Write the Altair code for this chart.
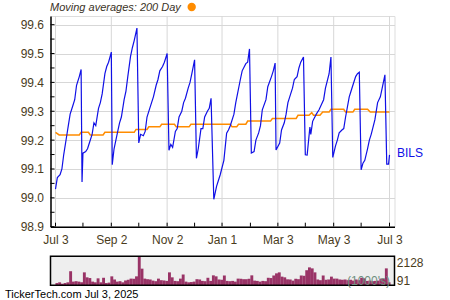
import altair as alt
import pandas as pd

# ---------------- data ----------------
price_dates = [
    "2024-07-03", "2024-07-05", "2024-07-08", "2024-07-10", "2024-07-12", "2024-07-15", "2024-07-17",
    "2024-07-19", "2024-07-22", "2024-07-24", "2024-07-26", "2024-07-29", "2024-07-31",
    "2024-08-01", "2024-08-02", "2024-08-05", "2024-08-07", "2024-08-09", "2024-08-12", "2024-08-14",
    "2024-08-16", "2024-08-19", "2024-08-21", "2024-08-23", "2024-08-26", "2024-08-28", "2024-08-30",
    "2024-09-02",
    "2024-09-03", "2024-09-05", "2024-09-09", "2024-09-11", "2024-09-13", "2024-09-16", "2024-09-18",
    "2024-09-20", "2024-09-23", "2024-09-25", "2024-09-27", "2024-09-30",
    "2024-10-02", "2024-10-04", "2024-10-07", "2024-10-09", "2024-10-11", "2024-10-14", "2024-10-16",
    "2024-10-18", "2024-10-21", "2024-10-23", "2024-10-25", "2024-10-28", "2024-10-30", "2024-11-02",
    "2024-11-04", "2024-11-06", "2024-11-08", "2024-11-11", "2024-11-13", "2024-11-15", "2024-11-18",
    "2024-11-20", "2024-11-22", "2024-11-25", "2024-11-27", "2024-11-29", "2024-12-02",
    "2024-12-04", "2024-12-06", "2024-12-09", "2024-12-11", "2024-12-13", "2024-12-16", "2024-12-18",
    "2024-12-20",
    "2024-12-23", "2024-12-26", "2024-12-30", "2025-01-03", "2025-01-06", "2025-01-08", "2025-01-10",
    "2025-01-14", "2025-01-16", "2025-01-21", "2025-01-23", "2025-01-27", "2025-01-29", "2025-01-31",
    "2025-02-02", "2025-02-05", "2025-02-07", "2025-02-10", "2025-02-12", "2025-02-14", "2025-02-18",
    "2025-02-20", "2025-02-24", "2025-02-26", "2025-02-28",
    "2025-03-01", "2025-03-05", "2025-03-07", "2025-03-10", "2025-03-12", "2025-03-14", "2025-03-17",
    "2025-03-19", "2025-03-21", "2025-03-24", "2025-03-26", "2025-03-28", "2025-03-31",
    "2025-04-02", "2025-04-04", "2025-04-07", "2025-04-08", "2025-04-10", "2025-04-14", "2025-04-17",
    "2025-04-22", "2025-04-24", "2025-04-28", "2025-04-30",
    "2025-05-02", "2025-05-05", "2025-05-07", "2025-05-09", "2025-05-12", "2025-05-14", "2025-05-16",
    "2025-05-20", "2025-05-22", "2025-05-27", "2025-05-29", "2025-05-31",
    "2025-06-02", "2025-06-04", "2025-06-06", "2025-06-09", "2025-06-11", "2025-06-13", "2025-06-17",
    "2025-06-20", "2025-06-23", "2025-06-25", "2025-06-28",
    "2025-06-30", "2025-07-02", "2025-07-03",
]
price_values = [
    99.03, 99.07, 99.08, 99.10, 99.15, 99.21, 99.25,
    99.29, 99.32, 99.34, 99.39, 99.42, 99.445,
    99.055, 99.155, 99.16, 99.17, 99.19, 99.22, 99.26,
    99.25, 99.31, 99.33, 99.36, 99.43, 99.455, 99.47,
    99.505,
    99.115, 99.17, 99.23, 99.26, 99.28, 99.34, 99.37,
    99.42, 99.49, 99.52, 99.545, 99.588,
    99.19, 99.22, 99.215, 99.23, 99.28, 99.31, 99.33,
    99.35, 99.39, 99.41, 99.44, 99.455, 99.47, 99.50,
    99.165, 99.185, 99.175, 99.23, 99.24, 99.28, 99.30,
    99.33, 99.345, 99.38, 99.40, 99.43, 99.478,
    99.137, 99.17, 99.24, 99.24, 99.28, 99.30, 99.31,
    99.345,
    98.995, 99.04, 99.08, 99.13, 99.224, 99.235, 99.25,
    99.29, 99.33, 99.41, 99.44, 99.465, 99.47, 99.516,
    99.155, 99.16, 99.20, 99.225, 99.25, 99.305, 99.34,
    99.385, 99.42, 99.44, 99.467,
    99.166, 99.19, 99.235, 99.26, 99.29, 99.33, 99.36,
    99.38, 99.41, 99.42, 99.45, 99.47, 99.488,
    99.149, 99.148, 99.245, 99.22, 99.265, 99.29, 99.305,
    99.34, 99.38, 99.43, 99.488,
    99.14, 99.18, 99.20, 99.225, 99.235, 99.24, 99.28,
    99.35, 99.37, 99.42, 99.43, 99.435,
    99.097, 99.12, 99.13, 99.17, 99.20, 99.22, 99.27,
    99.33, 99.35, 99.38, 99.426,
    99.117, 99.117, 99.149,
]

ma_dates = [
    "2024-07-03", "2024-07-07", "2024-07-29", "2024-07-31", "2024-08-08", "2024-08-10",
    "2024-08-24", "2024-08-26", "2024-09-27", "2024-09-29", "2024-10-11", "2024-10-13",
    "2024-10-25", "2024-10-27", "2024-11-10", "2024-11-12", "2024-11-26", "2024-11-28",
    "2025-01-10", "2025-01-12", "2025-01-17", "2025-01-19", "2025-01-27", "2025-01-29",
    "2025-02-23", "2025-02-25", "2025-03-23", "2025-03-25", "2025-04-06", "2025-04-09",
    "2025-04-11", "2025-04-18", "2025-04-21", "2025-04-28", "2025-04-30", "2025-05-14",
    "2025-05-16", "2025-05-24", "2025-05-26", "2025-06-09", "2025-06-12", "2025-07-03",
]
ma_values = [
    99.227, 99.218, 99.218, 99.227, 99.227, 99.218,
    99.218, 99.227, 99.227, 99.237, 99.237, 99.246,
    99.246, 99.255, 99.255, 99.246, 99.246, 99.255,
    99.255, 99.246, 99.246, 99.255, 99.255, 99.266,
    99.266, 99.275, 99.275, 99.286, 99.286, 99.295,
    99.286, 99.286, 99.297, 99.297, 99.307, 99.307,
    99.297, 99.297, 99.307, 99.307, 99.297, 99.297,
]

# volume in thousands, one bar every three days starting 2024-07-03
volume_values = [
    250, 300, 200, 250, 300, 1080, 350, 380, 350, 300,
    1000, 650, 600, 350, 300, 580, 300, 620, 250, 280,
    720, 500, 350, 380, 300, 430, 480, 560, 550, 720,
    2128, 1260, 560, 520, 500, 420, 380, 560, 450, 430,
    400, 1000, 650, 400, 380, 560, 850, 350, 300, 320,
    350, 520, 500, 400, 380, 620, 400, 790, 720, 500,
    480, 780, 400, 380, 400, 350, 560, 550, 520, 520,
    550, 790, 420, 400, 350, 400, 380, 620, 600, 780,
    930, 1000, 700, 650, 510, 500, 420, 550, 520, 780,
    760, 1150, 1350, 1280, 1000, 500, 450, 780, 480, 500,
    700, 560, 560, 500, 480, 500, 450, 480, 420, 500,
    450, 620, 580, 400, 420, 380, 400, 420, 560, 550,
    1280, 300,
]
volume_dates = [
    (pd.Timestamp("2024-07-03") + pd.Timedelta(days=3 * i)).strftime("%Y-%m-%d")
    for i in range(len(volume_values))
]

major_ticks = ["2024-07-03", "2024-09-02", "2024-11-02", "2025-01-01",
               "2025-03-03", "2025-05-03", "2025-07-03"]
minor_ticks = ["2024-08-02", "2024-10-02", "2024-12-02", "2025-02-01",
               "2025-04-02", "2025-06-02"]
y_ticks = [98.9, 98.95, 99.0, 99.05, 99.1, 99.15, 99.2, 99.25, 99.3,
           99.35, 99.4, 99.45, 99.5, 99.55, 99.6]
y_labels = [98.9, 99.0, 99.1, 99.2, 99.3, 99.4, 99.5, 99.6]

# ---------------- layout constants ----------------
W = 344
H = 210.7
VOL_TOP = 240.3
VOL_BOT = 269.3
TEXT = "#4a3c1c"
FONT = "Liberation Sans"


def dt(s):
    y, m, d = [int(p) for p in s.split("-")]
    return alt.DateTime(year=y, month=m, date=d, utc=True)


xscale = alt.Scale(type="utc", domain=[dt("2024-07-03"), dt("2025-07-03")])

price_df = pd.DataFrame({"date": price_dates, "v": price_values})
ma_df = pd.DataFrame({"date": ma_dates, "v": ma_values})
vol_df = pd.DataFrame({"date": volume_dates, "vol": volume_values})
major_df = pd.DataFrame({"date": major_ticks})
all_ticks_df = pd.DataFrame({"date": major_ticks + minor_ticks})
ytick_df = pd.DataFrame({"v": y_ticks})

yscale = alt.Scale(domain=[98.9, 99.63], nice=False, zero=False)

x_axis = alt.Axis(
    values=[dt(s) for s in major_ticks], format="%b %-d", grid=False, ticks=False,
    tickSize=0, domainColor="black", domainWidth=1.5, labelColor=TEXT, labelFont=FONT,
    labelFontSize=12, labelPadding=8, title=None, labelFlush=False, labelOverlap=False,
)
y_axis = alt.Axis(
    values=y_labels, format=".1f", grid=True, gridColor="#d7d7d7", gridWidth=1,
    ticks=False, tickSize=0, domainColor="black", domainWidth=1.5, labelColor=TEXT,
    labelFont=FONT, labelFontSize=12, labelPadding=7, title=None, labelOverlap=False,
)

X = alt.X("date:T", scale=xscale, axis=x_axis)
Y = alt.Y("v:Q", scale=yscale, axis=y_axis)

grid_x = alt.Chart(major_df).mark_rule(color="#d7d7d7", strokeWidth=1).encode(
    x=X, y=alt.value(0), y2=alt.value(H),
)
xticks = alt.Chart(all_ticks_df).mark_rule(color="black", strokeWidth=1).encode(
    x=X, y=alt.value(H - 4), y2=alt.value(H),
)
yticks = alt.Chart(ytick_df).mark_rule(color="black", strokeWidth=1).encode(
    y=Y, x=alt.value(0), x2=alt.value(4),
)
ma_line = alt.Chart(ma_df).mark_line(color="#ff8c00", strokeWidth=1.5).encode(x=X, y=Y)
price_line = alt.Chart(price_df).mark_line(color="#1010e6", strokeWidth=1.2).encode(x=X, y=Y)
main = alt.layer(grid_x, yticks, ma_line, price_line, xticks)

vscale = alt.Scale(domain=[91, 2128], range=[VOL_BOT, VOL_TOP], nice=False, zero=False)
vol_bg = alt.Chart(pd.DataFrame({"a": [0]})).mark_rect(fill="#eeeeee").encode(
    x=alt.value(0), x2=alt.value(W), y=alt.value(VOL_TOP), y2=alt.value(VOL_BOT),
)
vol_bars = alt.Chart(vol_df).mark_bar(color="#993366", width=2.9, xOffset=1.4).encode(
    x=X,
    y=alt.Y("vol:Q", scale=vscale, axis=None),
    y2=alt.datum(91),
)
vol_box = alt.Chart(pd.DataFrame({"a": [0]})).mark_rect(
    fill=None, stroke="black", strokeWidth=1.5
).encode(x=alt.value(0), x2=alt.value(W), y=alt.value(VOL_TOP), y2=alt.value(VOL_BOT))

vol = alt.layer(vol_bg, vol_bars)


def label(text, x, y, color=TEXT, size=12, style="normal", align="left", font=FONT):
    return alt.Chart(pd.DataFrame({"t": [text]})).mark_text(
        align=align, baseline="middle", color=color, fontSize=size, fontStyle=style, font=font
    ).encode(text="t:N", x=alt.value(x), y=alt.value(y))


title = label("Moving averages: 200 Day", -0.5, -7.8, color="#3a3226", size=11, style="italic")
dot = alt.Chart(pd.DataFrame({"a": [0]})).mark_point(
    filled=True, color="#ff8c00", size=70, opacity=1
).encode(x=alt.value(141.2), y=alt.value(-9.0))
bils = label("BILS", 346.5, 137.3, color="#1010e6")
v_hi = label("2128", 346.3, 246.7)
v_lo = label("91", 346.3, 265.3)
v_unit = label("(1000's)", 296.5, 265.3, color="#6f8f80")
footer = label("TickerTech.com  Jul 3, 2025", -45.5, 278.5, color="black", size=11)

chart = alt.layer(
    main, vol, vol_box, title, dot, bils, v_hi, v_lo, v_unit, footer
).resolve_scale(y="independent").properties(
    width=W, height=H,
    autosize=alt.AutoSizeParams(type="none"),
    padding={"left": 50.5, "top": 16, "right": 55.5, "bottom": 73.3},
).configure_view(fill="#ebebeb", stroke=None).configure(background="white")

chart.save("out.html", embed_options={"renderer": "svg", "actions": False})
